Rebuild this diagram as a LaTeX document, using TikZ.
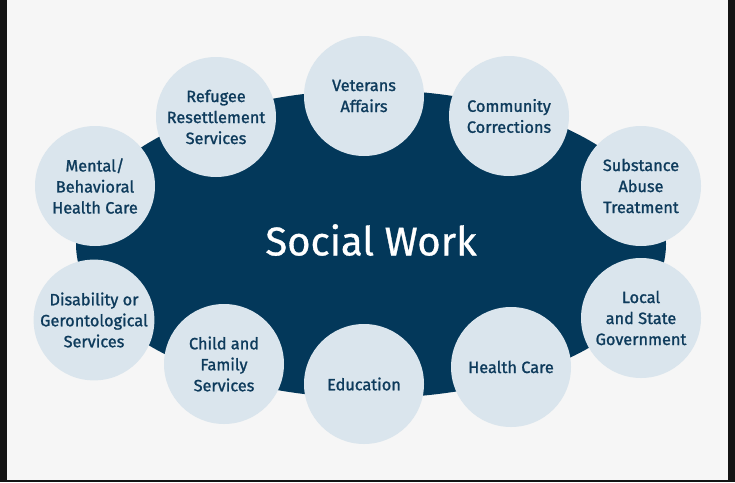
\documentclass[tikz,border=0pt]{standalone}
\usepackage{fontspec}
\setmainfont{Fira Sans}
\newfontfamily\labelfont[FakeBold=1.3]{Fira Sans}
\newfontfamily\titlefont[FakeBold=0.8]{Fira Sans}
\usetikzlibrary{shapes.geometric}
\definecolor{navy}{HTML}{03385A}
\definecolor{pale}{HTML}{DAE5ED}
\definecolor{labelc}{HTML}{0E3B5C}
\definecolor{bgc}{HTML}{F6F6F6}
\definecolor{edge}{HTML}{141414}
\tikzset{
  topic/.style={circle, fill=pale, minimum size=120pt, inner sep=0pt, outer sep=0pt,
    align=center, text=labelc, font=\labelfont\fontsize{16.3}{21}\selectfont},
  hub/.style={ellipse, fill=navy, minimum width=590pt, minimum height=308pt, inner sep=0pt, outer sep=0pt},
  title/.style={text=white, font=\titlefont\fontsize{40}{46}\selectfont, inner sep=0pt}
}
\begin{document}
\begin{tikzpicture}[x=1pt,y=-1pt]
\useasboundingbox (0,0) rectangle (735,482);
\fill[edge] (0,0) rectangle (735,482);
\fill[bgc] (7,0) rectangle (728,480);
\node[hub] (hubnode) at (371,244) {};
\node[title] (sw) at (371,240) {Social Work};
\node[topic] (veterans) at (364,96) {Veterans\\Affairs};
\node[topic] (refugee) at (216,117) {Refugee\\Resettlement\\Services};
\node[topic] (community) at (509,116) {Community\\Corrections};
\node[topic] (substance) at (641,186) {Substance\\Abuse\\Treatment};
\node[topic] (mental) at (95,186) {Mental/\\Behavioral\\Health Care};
\node[topic] (disability) at (94,320) {Disability or\\Gerontological\\Services};
\node[topic] (local) at (641,318) {Local\\and State\\Government};
\node[topic] (child) at (224,364) {Child and\\Family\\Services};
\node[topic] (education) at (364,384) {Education};
\node[topic] (health) at (511,367) {Health Care};
\end{tikzpicture}
\end{document}
